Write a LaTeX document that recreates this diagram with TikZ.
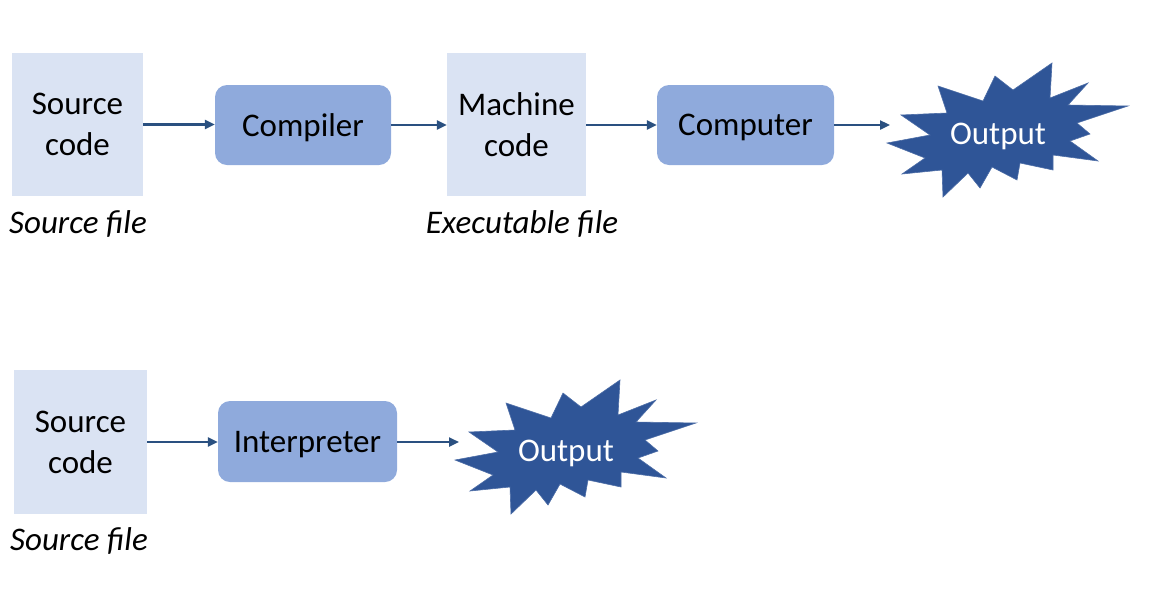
\documentclass[tikz,border=0pt]{standalone}
\usepackage{fontspec}
\setmainfont{Carlito}
\usetikzlibrary{arrows.meta}
\definecolor{lightbox}{HTML}{DAE3F3}
\definecolor{midbox}{HTML}{8FAADC}
\definecolor{darkblue}{HTML}{2F5597}
\definecolor{arrowblue}{HTML}{2A5080}
\tikzset{
  filebox/.style={fill=lightbox, draw=none, inner sep=0pt, align=center,
    font=\fontsize{33}{41}\selectfont},
  procbox/.style={fill=midbox, draw=none, rounded corners=12pt, inner sep=0pt,
    text depth=0pt, font=\fontsize{33}{41}\selectfont},
  caption/.style={font=\fontsize{33}{40}\selectfont\itshape, inner sep=0pt},
  outtext/.style={text=white, font=\fontsize{33}{40}\selectfont, inner sep=0pt, text depth=0pt},
  flow/.style={draw=arrowblue, line width=2.3pt, -{Triangle[length=10pt,width=9pt]}},
  burst/.style={fill=darkblue, draw=darkblue!85!white, line width=0.6pt, line join=miter},
}
\newcommand{\burstpath}{(-60,-48) -- (-15,-33) -- (-3,-58) -- (15,-44) -- (54,-71) -- (52,-36) -- (90,-51) -- (70,-29) -- (130,-28) -- (79,-11) -- (92,0) -- (72,7) -- (100,27) -- (55,21) -- (55,36) -- (22,29) -- (19,46) -- (-6,33) -- (-18,54) -- (-30,39) -- (-55,63) -- (-56,36) -- (-96,40) -- (-73,24) -- (-111,9) -- (-68,1) -- (-97,-19) -- (-51,-21) -- cycle}
\begin{document}
\begin{tikzpicture}[x=1pt, y=-1pt]
\useasboundingbox (0,0) rectangle (1153,603);

% top row
\node[filebox, minimum width=131pt, minimum height=143pt] (src1) at (77.5,124.5) {Source\\code};
\node[caption] (cap1) at (78,224) {Source file};
\node[procbox, minimum width=176pt, minimum height=80pt] (comp) at (303,125) {Compiler};
\node[filebox, minimum width=139pt, minimum height=143pt] (mach) at (516.5,124.5) {Machine\\code};
\node[caption] (cap2) at (522,224) {Executable file};
\node[procbox, minimum width=177pt, minimum height=80pt] (cpu) at (745.5,125) {Computer};
\path[burst, shift={(998,134)}] \burstpath;
\node[outtext] (out1) at (998,134) {Output};
\coordinate (out1in) at (890,125);

\draw[flow] (src1.east) -- (comp.west |- src1.east);
\draw[flow] (comp.east) -- (mach.west |- comp.east);
\draw[flow] (mach.east |- cpu.west) -- (cpu.west);
\draw[flow] (cpu.east) -- (out1in);

% bottom row
\node[filebox, minimum width=133pt, minimum height=144pt] (src2) at (80.5,442) {Source\\code};
\node[caption] (cap3) at (79,541) {Source file};
\node[procbox, minimum width=179pt, minimum height=81pt] (interp) at (307.5,441.5) {Interpreter};
\path[burst, shift={(566,451)}] \burstpath;
\node[outtext] (out2) at (566,451) {Output};
\coordinate (out2in) at (459,442);

\draw[flow] (src2.east) -- (interp.west |- src2.east);
\draw[flow] (interp.east |- src2.east) -- (out2in);
\end{tikzpicture}
\end{document}
